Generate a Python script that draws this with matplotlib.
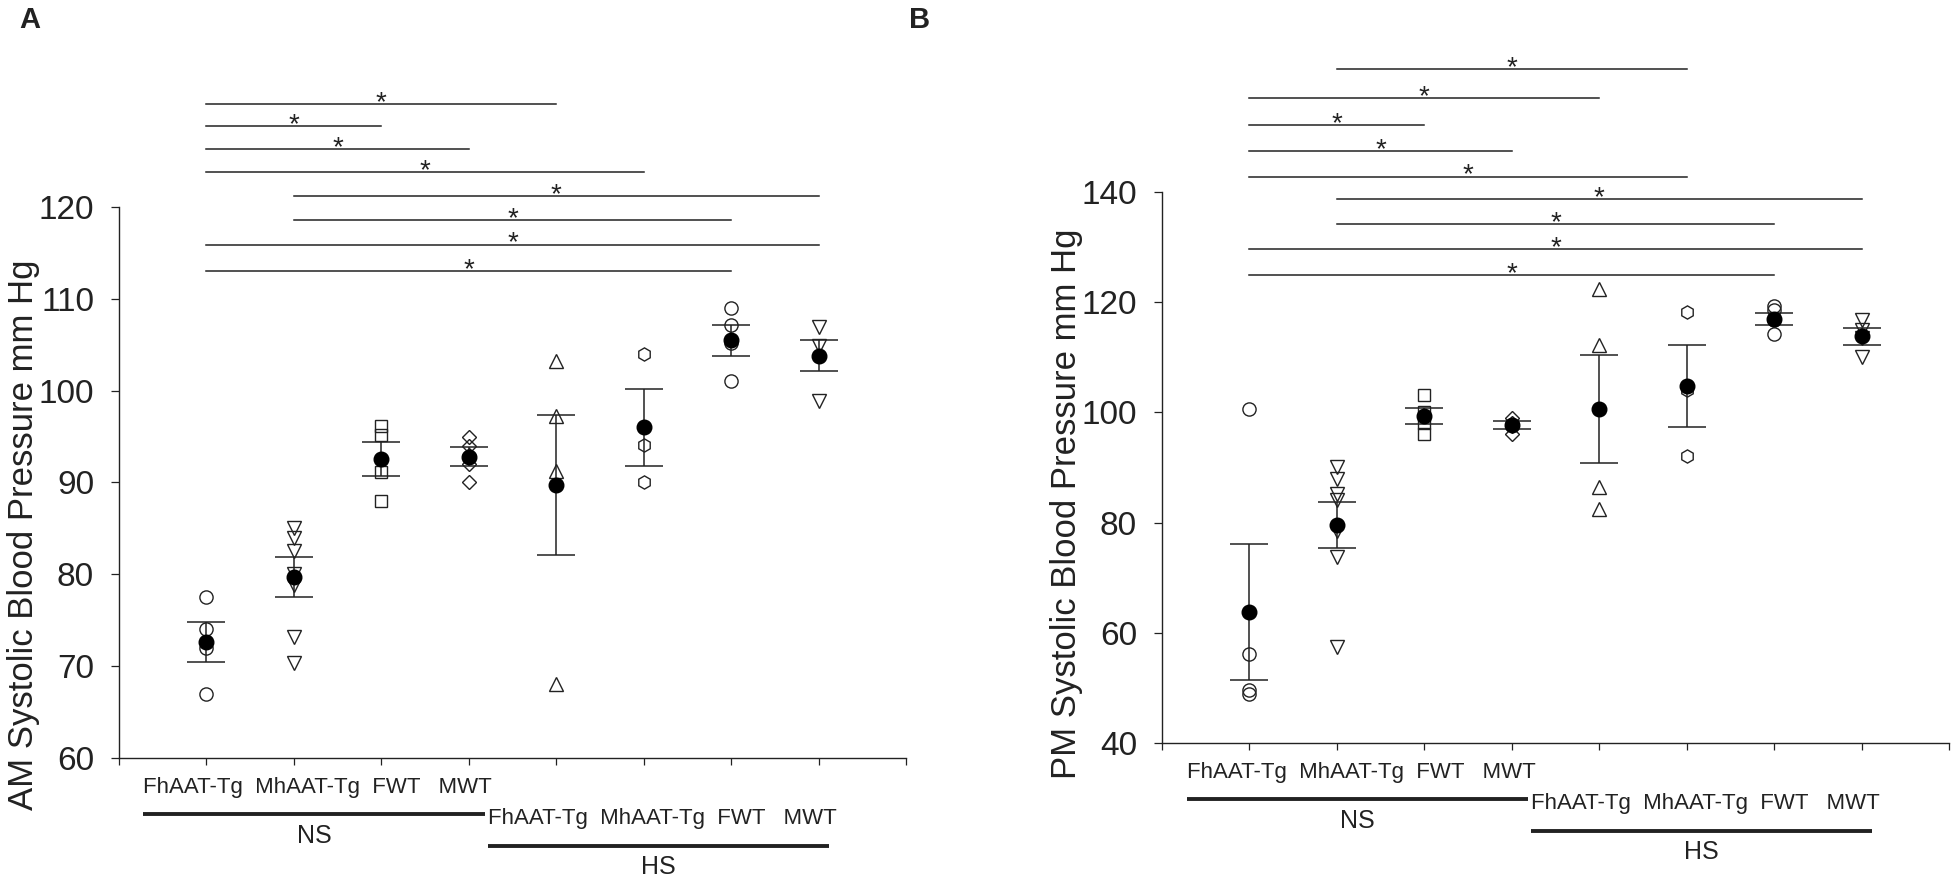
import matplotlib
matplotlib.use("Agg")
import matplotlib.pyplot as plt
import matplotlib.transforms as mtransforms
import numpy as np

plt.rcParams['font.family'] = ['Liberation Sans', 'DejaVu Sans']

# groups (NS block then HS block)
groups = ['FhAAT-Tg', 'MhAAT-Tg', 'FWT', 'MWT']
diets = ['NS', 'HS']

# AM systolic pressure, individual animals
am_points = [[77.5, 74.0, 72.0, 67.0],
             [85.0, 84.0, 82.5, 80.0, 78.8, 73.2, 70.3],
             [96.1, 95.2, 91.1, 88.0],
             [95.0, 94.0, 93.0, 92.0, 90.0],
             [103.2, 97.2, 91.2, 68.1],
             [104.0, 94.1, 90.0],
             [109.0, 107.1, 105.2, 101.0],
             [106.9, 104.9, 98.9]]
am_mean = [72.6, 79.7, 92.6, 92.8, 89.7, 96.0, 105.5, 103.8]
am_sem = [2.2, 2.2, 1.85, 1.05, 7.6, 4.2, 1.7, 1.7]
am_pairs = [(0, 4), (0, 2), (0, 3), (0, 5), (1, 7), (1, 6), (0, 7), (0, 6)]
am_bar_y = [131.2, 128.8, 126.3, 123.8, 121.2, 118.6, 115.9, 113.0]

# PM systolic pressure
pm_points = [[100.6, 56.1, 49.7, 48.9],
             [90.0, 87.9, 85.1, 84.1, 78.5, 73.8, 57.4],
             [103.1, 100.0, 98.0, 96.0],
             [99.0, 98.0, 97.5, 96.1],
             [122.4, 112.3, 86.4, 82.4],
             [118.2, 104.0, 92.0],
             [119.3, 118.5, 116.8, 114.2],
             [116.8, 115.0, 113.5, 110.0]]
pm_mean = [63.8, 79.5, 99.3, 97.7, 100.6, 104.8, 117.0, 113.8]
pm_sem = [12.35, 4.2, 1.45, 0.7, 9.75, 7.5, 1.1, 1.55]
pm_pairs = [(1, 5), (0, 4), (0, 2), (0, 3), (0, 5), (1, 7), (1, 6), (0, 7), (0, 6)]
pm_bar_y = [162.3, 157.1, 152.2, 147.4, 142.8, 138.7, 134.2, 129.7, 124.9]

INK = '#222222'
markers = ['o', 'v', 's', 'D', '^', 'h', 'o', 'v']
msizes = [9.5, 9.5, 8.5, 7.5, 9.5, 9.5, 9.5, 9.5]


def draw_panel(ax, points, mean, sem, pairs, bar_y, ylim, ystep, ylabel, letter, label_y):
    n = len(points)
    x = np.arange(n)
    for i in range(n):
        ax.plot([x[i]] * len(points[i]), points[i], linestyle='none', marker=markers[i],
                ms=msizes[i], mfc='none', mec=INK, mew=1.0, zorder=2)
    ax.errorbar(x, mean, yerr=sem, fmt='none', ecolor=INK, elinewidth=1.1,
                capsize=14, capthick=1.1, zorder=3)
    ax.plot(x, mean, linestyle='none', marker='o', ms=10.5, mfc='black', mec='black', zorder=4)

    # significance bars
    for (a, b), yb in zip(pairs, bar_y):
        ax.plot([a, b], [yb, yb], color=INK, lw=1.1, clip_on=False)
        ax.annotate('*', ((a + b) / 2, yb), xytext=(0, -4.3), textcoords='offset points',
                    ha='center', va='baseline', fontsize=20, color=INK, annotation_clip=False)

    ax.set_xlim(-1, n)
    ax.set_ylim(*ylim)
    ax.set_yticks(np.arange(ylim[0], ylim[1] + 1, ystep))
    ax.set_xticks(np.arange(-1, n + 1))
    ax.set_xticklabels([])
    ax.spines['top'].set_visible(False)
    ax.spines['right'].set_visible(False)
    for s in ['left', 'bottom']:
        ax.spines[s].set_linewidth(1.0)
        ax.spines[s].set_color(INK)
    ax.tick_params(axis='y', direction='out', length=6, width=0.9, labelsize=24, pad=12,
                   colors=INK)
    ax.tick_params(axis='x', direction='out', length=5, width=0.9, colors=INK)
    ax.set_ylabel(ylabel, fontsize=25, color=INK)
    ax.yaxis.set_label_coords(-0.1, label_y)

    # group labels under the axis
    trans = mtransforms.blended_transform_factory(ax.transData, ax.transAxes)
    row = '  '.join(groups[:3]) + '   ' + groups[3]
    for k, diet in enumerate(diets):
        x0 = -0.72 + k * 3.94
        x1 = x0 + 3.9
        dy = -0.057 * k
        ax.text(x0, -0.053 + dy, row, transform=trans, ha='left', va='center',
                fontsize=16, color=INK, clip_on=False)
        ax.plot([x0, x1], [-0.102 + dy, -0.102 + dy], transform=trans, color=INK,
                lw=2.8, clip_on=False, solid_capstyle='butt')
        ax.text((x0 + x1) / 2, -0.141 + dy, diet, transform=trans, ha='center', va='center',
                fontsize=18, color=INK, clip_on=False)

    ax.text(letter[0], letter[1], letter[2], transform=ax.figure.transFigure,
            fontsize=21, fontweight='bold', ha='left', va='center', color=INK)


fig = plt.figure(figsize=(19.51, 8.86), dpi=100)
axA = fig.add_axes([0.061, 0.1445, 0.4034, 0.6219])
axB = fig.add_axes([0.5956, 0.1614, 0.4034, 0.6219])

draw_panel(axA, am_points, am_mean, am_sem, am_pairs, am_bar_y, (60, 120), 10,
           'AM Systolic Blood Pressure mm Hg', (0.01, 0.977, 'A'), 0.405)
draw_panel(axB, pm_points, pm_mean, pm_sem, pm_pairs, pm_bar_y, (40, 140), 20,
           'PM Systolic Blood Pressure mm Hg', (0.466, 0.977, 'B'), 0.435)

fig.savefig('out.png', dpi=100)
plt.close(fig)
